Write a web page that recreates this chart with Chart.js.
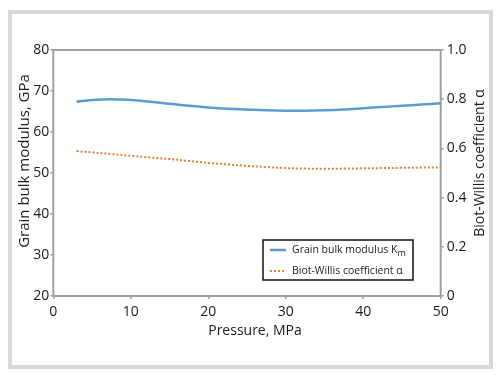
<!DOCTYPE html>
<html>
<head>
<meta charset="utf-8">
<script src="https://cdn.jsdelivr.net/npm/chart.js@4/dist/chart.umd.min.js"></script>
<style>
  html, body { margin: 0; padding: 0; background: #fff; }
  #wrap { position: relative; width: 500px; height: 377px; overflow: hidden; }
  #frame { position: absolute; left: 8px; top: 10px; width: 485px; height: 359px; box-sizing: border-box; border: 4px solid #d9d9d9; }
  #c { position: absolute; left: 0; top: 0; }
</style>
</head>
<body>
<div id="wrap">
  <div id="frame"></div>
  <canvas id="c" width="500" height="377"></canvas>
</div>
<script>
// ---- data ----
const pressure = [3, 5, 7.5, 10, 12.5, 15, 17.5, 20, 22.5, 25, 27.5, 30, 32.5, 35, 37.5, 40, 42.5, 45, 47.5, 50];
const grainModulus = [67.4, 67.8, 68.0, 67.8, 67.4, 66.9, 66.4, 66.0, 65.7, 65.5, 65.3, 65.2, 65.2, 65.3, 65.5, 65.8, 66.1, 66.4, 66.7, 67.0];
const biotWillis = [0.589, 0.584, 0.577, 0.570, 0.563, 0.557, 0.549, 0.541, 0.535, 0.529, 0.524, 0.520, 0.518, 0.517, 0.518, 0.519, 0.520, 0.521, 0.522, 0.523];
const xTicks = [0, 10, 20, 30, 40, 50];
const leftTicks = [20, 30, 40, 50, 60, 70, 80];
const rightTicks = [0, 0.2, 0.4, 0.6, 0.8, 1.0];
const seriesLabels = ['Grain bulk modulus K', 'Biot-Willis coefficient \u03B1'];
const axisTitles = { x: 'Pressure, MPa', y: 'Grain bulk modulus, GPa', y1: 'Biot-Willis coefficient \u03B1' };

const TEXT = '#1a1a24';
const AXIS = '#a0a0a0';
const FONT = "'Open Sans', 'Liberation Sans', sans-serif";

const titlesPlugin = {
  id: 'titles',
  afterDraw(chart) {
    const ctx = chart.ctx;
    ctx.save();
    ctx.fillStyle = TEXT;
    ctx.textAlign = 'center';
    ctx.textBaseline = 'middle';
    // x title
    ctx.font = '14px ' + FONT;
    ctx.fillText(axisTitles.x, 255, 331);
    // left title
    ctx.save();
    ctx.font = '15px ' + FONT;
    ctx.translate(25, 161);
    ctx.rotate(-Math.PI / 2);
    ctx.fillText(axisTitles.y, 0, 0);
    ctx.restore();
    // right title
    ctx.save();
    ctx.font = '14px ' + FONT;
    ctx.translate(480, 163);
    ctx.rotate(-Math.PI / 2);
    ctx.fillText(axisTitles.y1, 0, 0);
    ctx.restore();
    ctx.restore();
  }
};

const boxPlugin = {
  id: 'plotBox',
  beforeDatasetsDraw(chart) {
    const a = chart.chartArea, ctx = chart.ctx;
    ctx.save();
    ctx.strokeStyle = AXIS;
    ctx.lineWidth = 2;
    ctx.strokeRect(a.left, a.top, a.right - a.left, a.bottom - a.top);
    ctx.restore();
  }
};

const legendPlugin = {
  id: 'boxLegend',
  afterDatasetsDraw(chart) {
    const ctx = chart.ctx;
    const x = 263, y = 240, w = 150, h = 40;
    ctx.save();
    ctx.fillStyle = '#fff';
    ctx.fillRect(x, y, w, h);
    ctx.strokeStyle = '#111';
    ctx.lineWidth = 1.5;
    ctx.strokeRect(x, y, w, h);
    const rows = [250, 271];
    chart.data.datasets.forEach((ds, i) => {
      const ry = rows[i];
      ctx.beginPath();
      ctx.strokeStyle = ds.borderColor;
      ctx.lineWidth = ds.borderWidth;
      ctx.setLineDash(ds.borderDash || []);
      ctx.moveTo(270, ry);
      ctx.lineTo(286, ry);
      ctx.stroke();
      ctx.setLineDash([]);
      ctx.fillStyle = TEXT;
      ctx.font = '10.5px ' + FONT;
      ctx.textAlign = 'left';
      ctx.textBaseline = 'middle';
      ctx.fillText(ds.label, 292, ry);
      if (i === 0) {
        const tw = ctx.measureText(ds.label).width;
        ctx.font = '9px ' + FONT;
        ctx.fillText('m', 292 + tw, ry + 3);
      }
    });
    ctx.restore();
  }
};

new Chart(document.getElementById('c'), {
  type: 'line',
  data: {
    datasets: [
      {
        label: seriesLabels[0],
        data: pressure.map((p, i) => ({ x: p, y: grainModulus[i] })),
        yAxisID: 'y',
        borderColor: '#5b9bd5',
        borderWidth: 2.5,
        pointRadius: 0,
        tension: 0.4,
        fill: false
      },
      {
        label: seriesLabels[1],
        data: pressure.map((p, i) => ({ x: p, y: biotWillis[i] })),
        yAxisID: 'y1',
        borderColor: '#ed7d31',
        borderWidth: 2,
        borderDash: [2, 2],
        borderCapStyle: 'butt',
        pointRadius: 0,
        tension: 0.4,
        fill: false
      }
    ]
  },
  options: {
    responsive: false,
    animation: false,
    layout: { padding: { top: 50, left: 0, right: 0, bottom: 0 } },
    plugins: { legend: { display: false }, tooltip: { enabled: false } },
    scales: {
      x: {
        type: 'linear',
        min: 0, max: 50,
        afterBuildTicks: s => { s.ticks = xTicks.map(v => ({ value: v })); },
        afterFit: s => { s.height = 81; },
        grid: { drawOnChartArea: false, drawTicks: true, tickLength: 3, color: AXIS, lineWidth: 1.5 },
        border: { display: false },
        ticks: { color: TEXT, font: { size: 14, family: FONT }, padding: 5, maxRotation: 0 }
      },
      y: {
        type: 'linear',
        position: 'left',
        min: 20, max: 80,
        afterBuildTicks: s => { s.ticks = leftTicks.map(v => ({ value: v })); },
        afterFit: s => { s.width = 53.3; },
        grid: { drawOnChartArea: false, drawTicks: true, tickLength: 3, color: AXIS, lineWidth: 1.5 },
        border: { display: false },
        ticks: { color: TEXT, font: { size: 14, family: FONT }, padding: 1 }
      },
      y1: {
        type: 'linear',
        position: 'right',
        min: 0, max: 1,
        afterBuildTicks: s => { s.ticks = rightTicks.map(v => ({ value: v })); },
        afterFit: s => { s.width = 59.3; },
        grid: { drawOnChartArea: false, drawTicks: true, tickLength: 3, color: AXIS, lineWidth: 1.5 },
        border: { display: false },
        ticks: { color: TEXT, font: { size: 14, family: FONT }, padding: 3,
          callback: v => (v === 0 ? '0' : v.toFixed(1)) }
      }
    }
  },
  plugins: [boxPlugin, legendPlugin, titlesPlugin]
});
</script>
</body>
</html>
